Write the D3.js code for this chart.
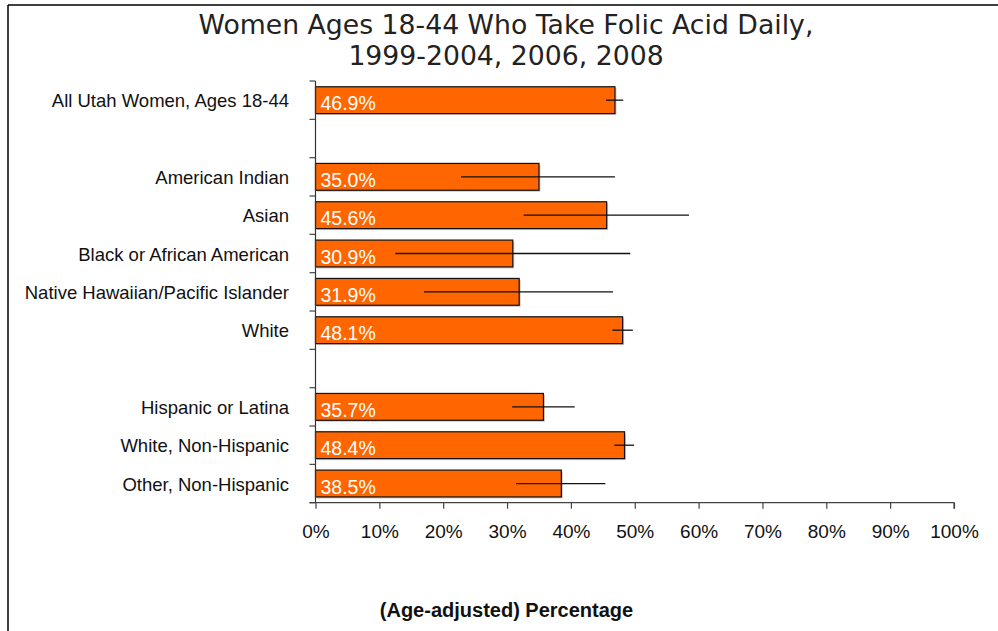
<!DOCTYPE html>
<html>
<head>
<meta charset="utf-8">
<script src="https://cdn.jsdelivr.net/npm/d3@7"></script>
<style>
  html, body { margin: 0; padding: 0; background: #fff; }
  svg { display: block; }
</style>
</head>
<body>
<div id="chart"></div>
<script>
// Rows of the chart; empty strings are spacer rows between groups
const categories = [
  "All Utah Women, Ages 18-44",
  "",
  "American Indian",
  "Asian",
  "Black or African American",
  "Native Hawaiian/Pacific Islander",
  "White",
  "",
  "Hispanic or Latina",
  "White, Non-Hispanic",
  "Other, Non-Hispanic"
];
// Age-adjusted percentage taking folic acid daily
const values = [46.9, null, 35.0, 45.6, 30.9, 31.9, 48.1, null, 35.7, 48.4, 38.5];
// 95% confidence interval bounds
const lower = [45.5, null, 22.8, 32.6, 12.5, 17.0, 46.5, null, 30.8, 46.8, 31.4];
const upper = [48.2, null, 46.9, 58.5, 49.3, 46.6, 49.7, null, 40.6, 49.9, 45.4];
const xTicks = [0, 10, 20, 30, 40, 50, 60, 70, 80, 90, 100];
const titleLines = ["Women Ages 18-44 Who Take Folic Acid Daily,", "1999-2004, 2006, 2008"];
const xTitle = "(Age-adjusted) Percentage";

const W = 998, H = 631;
const plot = { left: 315.5, right: 954, top: 81, bottom: 502.7 };
const sans = "'Liberation Sans', Arial, sans-serif";

const rows = categories.map((c, i) => ({
  key: "r" + i, label: c, value: values[i], lo: lower[i], hi: upper[i]
}));

const svg = d3.select("#chart").append("svg")
  .attr("width", W).attr("height", H);

// outer frame (top and left edges visible)
svg.append("line").attr("x1", 8).attr("x2", W).attr("y1", 5).attr("y2", 5)
  .attr("stroke", "#000").attr("stroke-width", 1.5);
svg.append("line").attr("x1", 8).attr("x2", 8).attr("y1", 5).attr("y2", H)
  .attr("stroke", "#000").attr("stroke-width", 1.5);

const x = d3.scaleLinear().domain([0, 100]).range([plot.left, plot.right]);
const y = d3.scaleBand().domain(rows.map(r => r.key))
  .range([plot.top, plot.bottom]).paddingInner(0.3).paddingOuter(0.15);

// title
const title = svg.append("text")
  .attr("text-anchor", "middle")
  .attr("font-family", "'DejaVu Sans', Verdana, sans-serif")
  .attr("font-size", 26.7)
  .attr("fill", "#222");
title.selectAll("tspan").data(titleLines).join("tspan")
  .attr("x", 506).attr("y", (d, i) => 34 + i * 31)
  .text(d => d);

// bars
const dataRows = rows.filter(r => r.value != null);
const g = svg.append("g");

g.selectAll("rect.shadow").data(dataRows).join("rect")
  .attr("class", "shadow")
  .attr("x", x(0) + 1.5)
  .attr("y", d => y(d.key) + 1.5)
  .attr("width", d => x(d.value) - x(0))
  .attr("height", y.bandwidth())
  .attr("fill", "#c8c8c8");

g.selectAll("rect.bar").data(dataRows).join("rect")
  .attr("class", "bar")
  .attr("x", x(0))
  .attr("y", d => y(d.key))
  .attr("width", d => x(d.value) - x(0))
  .attr("height", y.bandwidth())
  .attr("fill", "#FF6600")
  .attr("stroke", "#111")
  .attr("stroke-width", 1.2);

// confidence intervals
g.selectAll("line.ci").data(dataRows).join("line")
  .attr("class", "ci")
  .attr("x1", d => x(d.lo)).attr("x2", d => x(d.hi))
  .attr("y1", d => y(d.key) + y.bandwidth() / 2)
  .attr("y2", d => y(d.key) + y.bandwidth() / 2)
  .attr("stroke", "#111").attr("stroke-width", 1.3);

// value labels inside bars
g.selectAll("text.val").data(dataRows).join("text")
  .attr("class", "val")
  .attr("x", x(0) + 5)
  .attr("y", d => y(d.key) + y.bandwidth() / 2 + 10)
  .attr("font-family", sans)
  .attr("font-size", 19.5)
  .attr("fill", "#fff")
  .text(d => d.value.toFixed(1) + "%");

// category labels
svg.selectAll("text.cat").data(dataRows).join("text")
  .attr("class", "cat")
  .attr("x", 289)
  .attr("y", d => y(d.key) + y.bandwidth() / 2 + 7)
  .attr("text-anchor", "end")
  .attr("font-family", sans)
  .attr("font-size", 18.5)
  .attr("fill", "#111")
  .text(d => d.label);

// y axis with ticks at row boundaries
const boundaries = d3.range(rows.length + 1).map(i => plot.top + i * y.step());
svg.append("line")
  .attr("x1", plot.left).attr("x2", plot.left)
  .attr("y1", plot.top).attr("y2", plot.bottom)
  .attr("stroke", "#333").attr("stroke-width", 1.2);
svg.selectAll("line.ytick").data(boundaries).join("line")
  .attr("class", "ytick")
  .attr("x1", plot.left - 6).attr("x2", plot.left)
  .attr("y1", d => d).attr("y2", d => d)
  .attr("stroke", "#444").attr("stroke-width", 1.2);

// x axis
const xAxis = d3.axisBottom(x).tickValues(xTicks)
  .tickFormat(d => d + "%").tickSize(6).tickPadding(16);
const xg = svg.append("g")
  .attr("transform", `translate(0,${plot.bottom})`)
  .call(xAxis);
xg.select(".domain").attr("stroke", "#444").attr("stroke-width", 1.2)
  .attr("d", `M${plot.left - 6},0H${plot.right}V6`);
xg.selectAll(".tick line").attr("stroke", "#444").attr("stroke-width", 1.2);
xg.selectAll(".tick text")
  .attr("font-family", sans)
  .attr("font-size", 19)
  .attr("fill", "#111");

// x axis title
svg.append("text")
  .attr("x", 506.5).attr("y", 616.5)
  .attr("text-anchor", "middle")
  .attr("font-family", sans)
  .attr("font-size", 20)
  .attr("font-weight", "bold")
  .attr("fill", "#111")
  .text(xTitle);
</script>
</body>
</html>
